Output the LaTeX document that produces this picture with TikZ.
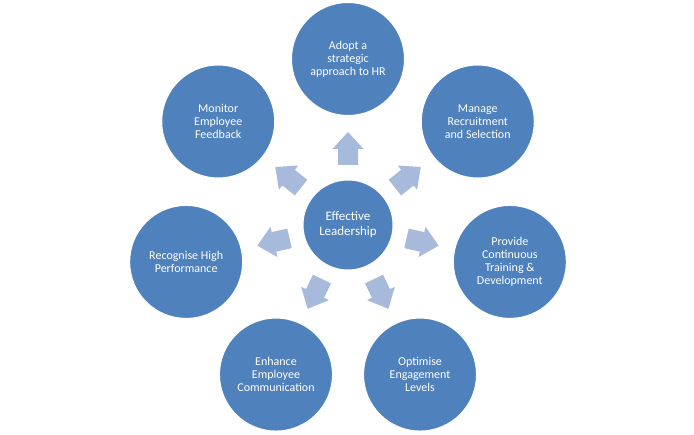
\documentclass[tikz,border=0pt]{standalone}
\usepackage{fontspec}
\setmainfont{Carlito}
\usetikzlibrary{calc}
\definecolor{circblue}{HTML}{4F81BD}
\definecolor{arrowblue}{HTML}{A7BADC}
\begin{document}
\begin{tikzpicture}[x=1pt,y=1pt,
  outer/.style={circle, fill=circblue, draw=white, line width=1pt, minimum size=113pt, inner sep=0pt,
    text=white, align=center, font=\fontsize{12}{13}\selectfont},
  hub/.style={outer, minimum size=90pt, font=\fontsize{13}{15}\selectfont},
  arrowshape/.style={fill=arrowblue}]
\useasboundingbox (0,0) rectangle (694,435);
\coordinate (C) at (348,210);
\node[hub] (lead) at (C) {Effective\\Leadership};
\foreach \a/\n/\t in {
  90/hr/{Adopt a\\strategic\\approach to HR},
  38.571/recruit/{Manage\\Recruitment\\and Selection},
  -12.857/train/{Provide\\Continuous\\Training \&\\Development},
  -64.286/engage/{Optimise\\Engagement\\Levels},
  -115.714/comm/{Enhance\\Employee\\Communication},
  -167.143/recog/{Recognise High\\Performance},
  141.429/monitor/{Monitor\\Employee\\Feedback}}{
  \node[outer] (\n) at ($(C)+(\a:166)$) {\t};
  \fill[arrowshape, shift={(C)}, rotate=\a]
    (60,-10) -- (76,-10) -- (76,-15.5) -- (93,0) -- (76,15.5) -- (76,10) -- (60,10) -- cycle;
}
\end{tikzpicture}
\end{document}
